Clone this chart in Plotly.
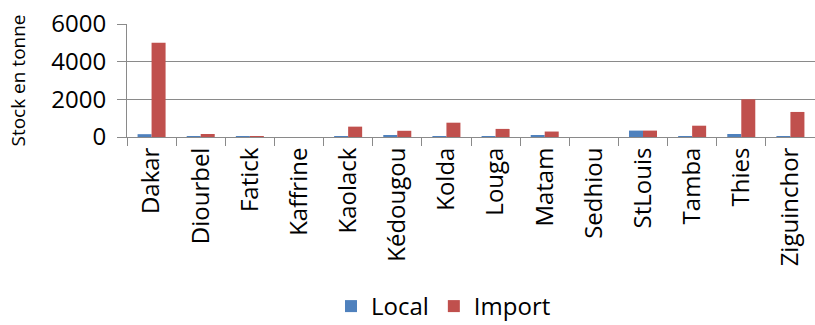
import plotly.graph_objects as go

regions = ["Dakar", "Diourbel", "Fatick", "Kaffrine", "Kaolack", "Kédougou", "Kolda",
           "Louga", "Matam", "Sedhiou", "StLouis", "Tamba", "Thies", "Ziguinchor"]
local_vals = [150, 30, 20, 0, 20, 100, 20, 30, 90, 0, 340, 30, 160, 30]
import_vals = [5000, 160, 20, 0, 550, 330, 760, 430, 290, 0, 340, 600, 2000, 1330]
y_ticks = [0, 2000, 4000, 6000]

FONT = "Open Sans"
GRID = "#8a8a8a"

fig = go.Figure()
fig.add_trace(go.Bar(x=regions, y=local_vals, name="Local", marker_color="#4F81BD",
                     marker_line_width=0))
fig.add_trace(go.Bar(x=regions, y=import_vals, name="Import", marker_color="#C0504D",
                     marker_line_width=0))

fig.update_layout(
    width=815, height=325,
    margin=dict(l=127, r=0, t=24, b=188, autoexpand=False),
    paper_bgcolor="white", plot_bgcolor="white",
    barmode="group", bargap=0.43, bargroupgap=0,
    font=dict(family=FONT, color="#000000"),
    showlegend=True,
    legend=dict(orientation="h", x=0.46, xanchor="center",
                y=-1.5, yanchor="middle",
                font=dict(size=24, family=FONT), itemwidth=30, traceorder="normal"),
)
fig.update_xaxes(
    type="category", tickson="boundaries", ticks="outside", ticklen=8, tickcolor=GRID,
    tickwidth=1, showline=True, linecolor=GRID, linewidth=1, showgrid=False,
    tickangle=-90, tickfont=dict(size=24, family=FONT, color="#000000"),
)
fig.update_yaxes(
    range=[0, 6000], tickvals=y_ticks, ticks="outside", ticklen=9, tickcolor=GRID,
    showline=True, linecolor=GRID, linewidth=1, showgrid=True, gridcolor=GRID, gridwidth=1,
    zeroline=False, tickfont=dict(size=24, family=FONT, color="#000000"),
    ticklabelstandoff=6,
    title=dict(text="Stock en tonne", font=dict(size=19, family=FONT, color="#000000"),
               standoff=20),
)

fig.write_html("out.html")
